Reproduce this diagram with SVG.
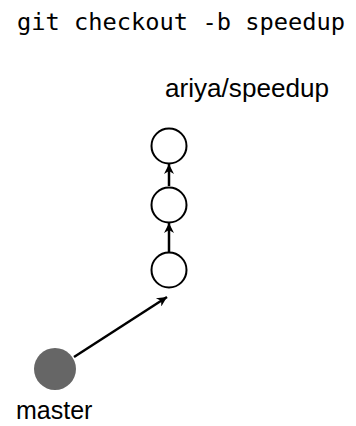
<svg xmlns="http://www.w3.org/2000/svg" width="356" height="426" viewBox="0 0 356 426">
<defs>
<style>
.c{fill:#fff;stroke:#000;stroke-width:2}
.m{fill:#666;stroke:none}
.lbl{font-family:"Liberation Sans",Arial,sans-serif;font-size:25px;fill:#000}
.cmd{font-family:"DejaVu Sans Mono","Liberation Mono",monospace;font-size:23.5px;fill:#000}
.e{stroke:#000;stroke-width:2.5;fill:none;marker-end:url(#ah)}
</style>
<marker id="ah" viewBox="0 0 10 10" refX="10" refY="5" markerWidth="4.5" markerHeight="4" orient="auto" markerUnits="strokeWidth">
<path d="M0,0 L10,5 L0,10 L3,5 Z" fill="#000"/>
</marker>
</defs>
<rect width="356" height="426" fill="#fff"/>
<text class="cmd" x="17" y="30" textLength="328" lengthAdjust="spacingAndGlyphs">git checkout -b speedup</text>
<g id="connectors">
<line class="e" x1="169" y1="186" x2="169" y2="164"/>
<line class="e" x1="169" y1="252" x2="169" y2="223"/>
<line class="e" x1="74" y1="357" x2="167" y2="297"/>
</g>
<g id="c3"><circle class="c" cx="169" cy="146" r="17.5"/></g>
<g id="c2"><circle class="c" cx="169" cy="205" r="17.5"/></g>
<g id="c1"><circle class="c" cx="169" cy="270" r="17.5"/></g>
<g id="master"><circle class="m" cx="55" cy="369" r="21"/></g>
<g id="label-speedup"><text class="lbl" x="165" y="97" textLength="164" lengthAdjust="spacingAndGlyphs">ariya/speedup</text></g>
<g id="label-master"><text class="lbl" x="16" y="419">master</text></g>
</svg>
